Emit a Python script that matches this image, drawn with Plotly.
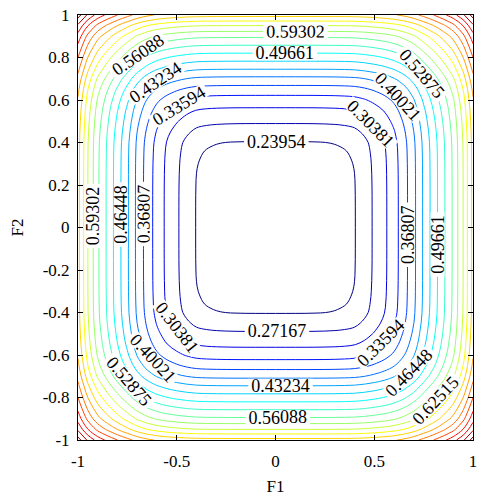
import numpy as np
import plotly.graph_objects as go

# Axis profile of the response, sampled every 0.05 from the centre (0) to the edge (1)
profile_d = [0.00, 0.05, 0.10, 0.15, 0.20, 0.25, 0.30, 0.35, 0.40, 0.45, 0.50,
             0.55, 0.60, 0.65, 0.70, 0.75, 0.80, 0.85, 0.90, 0.95, 1.00]
profile_z = [0.212, 0.212, 0.213, 0.214, 0.216, 0.219, 0.223, 0.229, 0.238, 0.256, 0.276,
             0.297, 0.322, 0.354, 0.392, 0.437, 0.479, 0.522, 0.566, 0.625, 0.700]
blend_exponent = 1.8

# Contour levels: first level and spacing, labelled inner set, unlabelled outer set
level_start = 0.239537
level_step = 0.03213445
labelled_levels = [0.23954, 0.27167, 0.30381, 0.33594, 0.36807, 0.40021, 0.43234,
                   0.46448, 0.49661, 0.52875, 0.56088, 0.59302, 0.62515, 0.65728]
outer_levels = [0.68942, 0.72155, 0.75369, 0.78582, 0.81796, 0.85009, 0.88223, 0.91436]

x_ticks = [-1, -0.5, 0, 0.5, 1]
x_ticktext = ["-1", "-0.5", "0", "0.5", "1"]
y_ticks = [-1, -0.8, -0.6, -0.4, -0.2, 0, 0.2, 0.4, 0.6, 0.8, 1]
y_ticktext = ["-1", "-0.8", "-0.6", "-0.4", "-0.2", "0", "0.2", "0.4", "0.6", "0.8", "1"]

# Build the grid on [-1, 1] by mirroring the profile and blending the two directions
n = len(profile_d)
idx = np.concatenate([np.arange(n - 1, 0, -1), np.arange(n)])
coords = np.concatenate([-np.array(profile_d[:0:-1]), np.array(profile_d)])
pz = np.array(profile_z)
base = pz[0]
g = pz[idx] - base
q = blend_exponent
Z = base + (g[None, :] ** q + g[:, None] ** q) ** (1.0 / q)

n_lab = len(labelled_levels)
n_out = len(outer_levels)
nlev = n_lab + n_out


def jet(f):
    r = min(max(1.5 - abs(4 * f - 3), 0), 1)
    gg = min(max(1.5 - abs(4 * f - 2), 0), 1)
    b = min(max(1.5 - abs(4 * f - 1), 0), 1)
    return "rgb(%d,%d,%d)" % (round(r * 255), round(gg * 255), round(b * 255))


def sub_scale(first, count):
    return [[i / (count - 1), jet((first + i) / (nlev - 1))] for i in range(count)]


font_family = "Liberation Serif, Times New Roman, serif"

fig = go.Figure()
fig.add_trace(go.Contour(
    x=coords, y=coords, z=Z,
    autocontour=False,
    contours=dict(start=level_start, end=level_start + (n_lab - 1) * level_step + 1e-6,
                  size=level_step, coloring="lines", showlabels=True,
                  labelfont=dict(family=font_family, size=18, color="black"),
                  labelformat=".5f"),
    colorscale=sub_scale(0, n_lab),
    line=dict(width=1), showscale=False, hoverinfo="skip",
))
outer_start = level_start + n_lab * level_step
fig.add_trace(go.Contour(
    x=coords, y=coords, z=Z,
    autocontour=False,
    contours=dict(start=outer_start, end=outer_start + (n_out - 1) * level_step + 1e-6,
                  size=level_step, coloring="lines", showlabels=False),
    colorscale=sub_scale(n_lab, n_out),
    line=dict(width=1), showscale=False, hoverinfo="skip",
))

axis_common = dict(showline=True, linecolor="black", linewidth=1, mirror="ticks",
                   ticks="inside", ticklen=5, tickcolor="black", showgrid=False,
                   zeroline=False, ticklabeloverflow="allow",
                   tickfont=dict(family=font_family, size=17, color="black"))
fig.update_layout(
    width=478, height=496,
    margin=dict(l=78, r=1, t=15, b=55),
    paper_bgcolor="white", plot_bgcolor="white",
    showlegend=False,
    xaxis=dict(range=[-1, 1], tickvals=x_ticks, ticktext=x_ticktext, ticklabelstandoff=6,
               title=dict(text="F1", font=dict(family=font_family, size=17, color="black"), standoff=12),
               **axis_common),
    yaxis=dict(range=[-1, 1], tickvals=y_ticks, ticktext=y_ticktext, ticklabelstandoff=4,
               title=dict(text="F2", font=dict(family=font_family, size=17, color="black"), standoff=14),
               **axis_common),
)
fig.write_html("out.html")
